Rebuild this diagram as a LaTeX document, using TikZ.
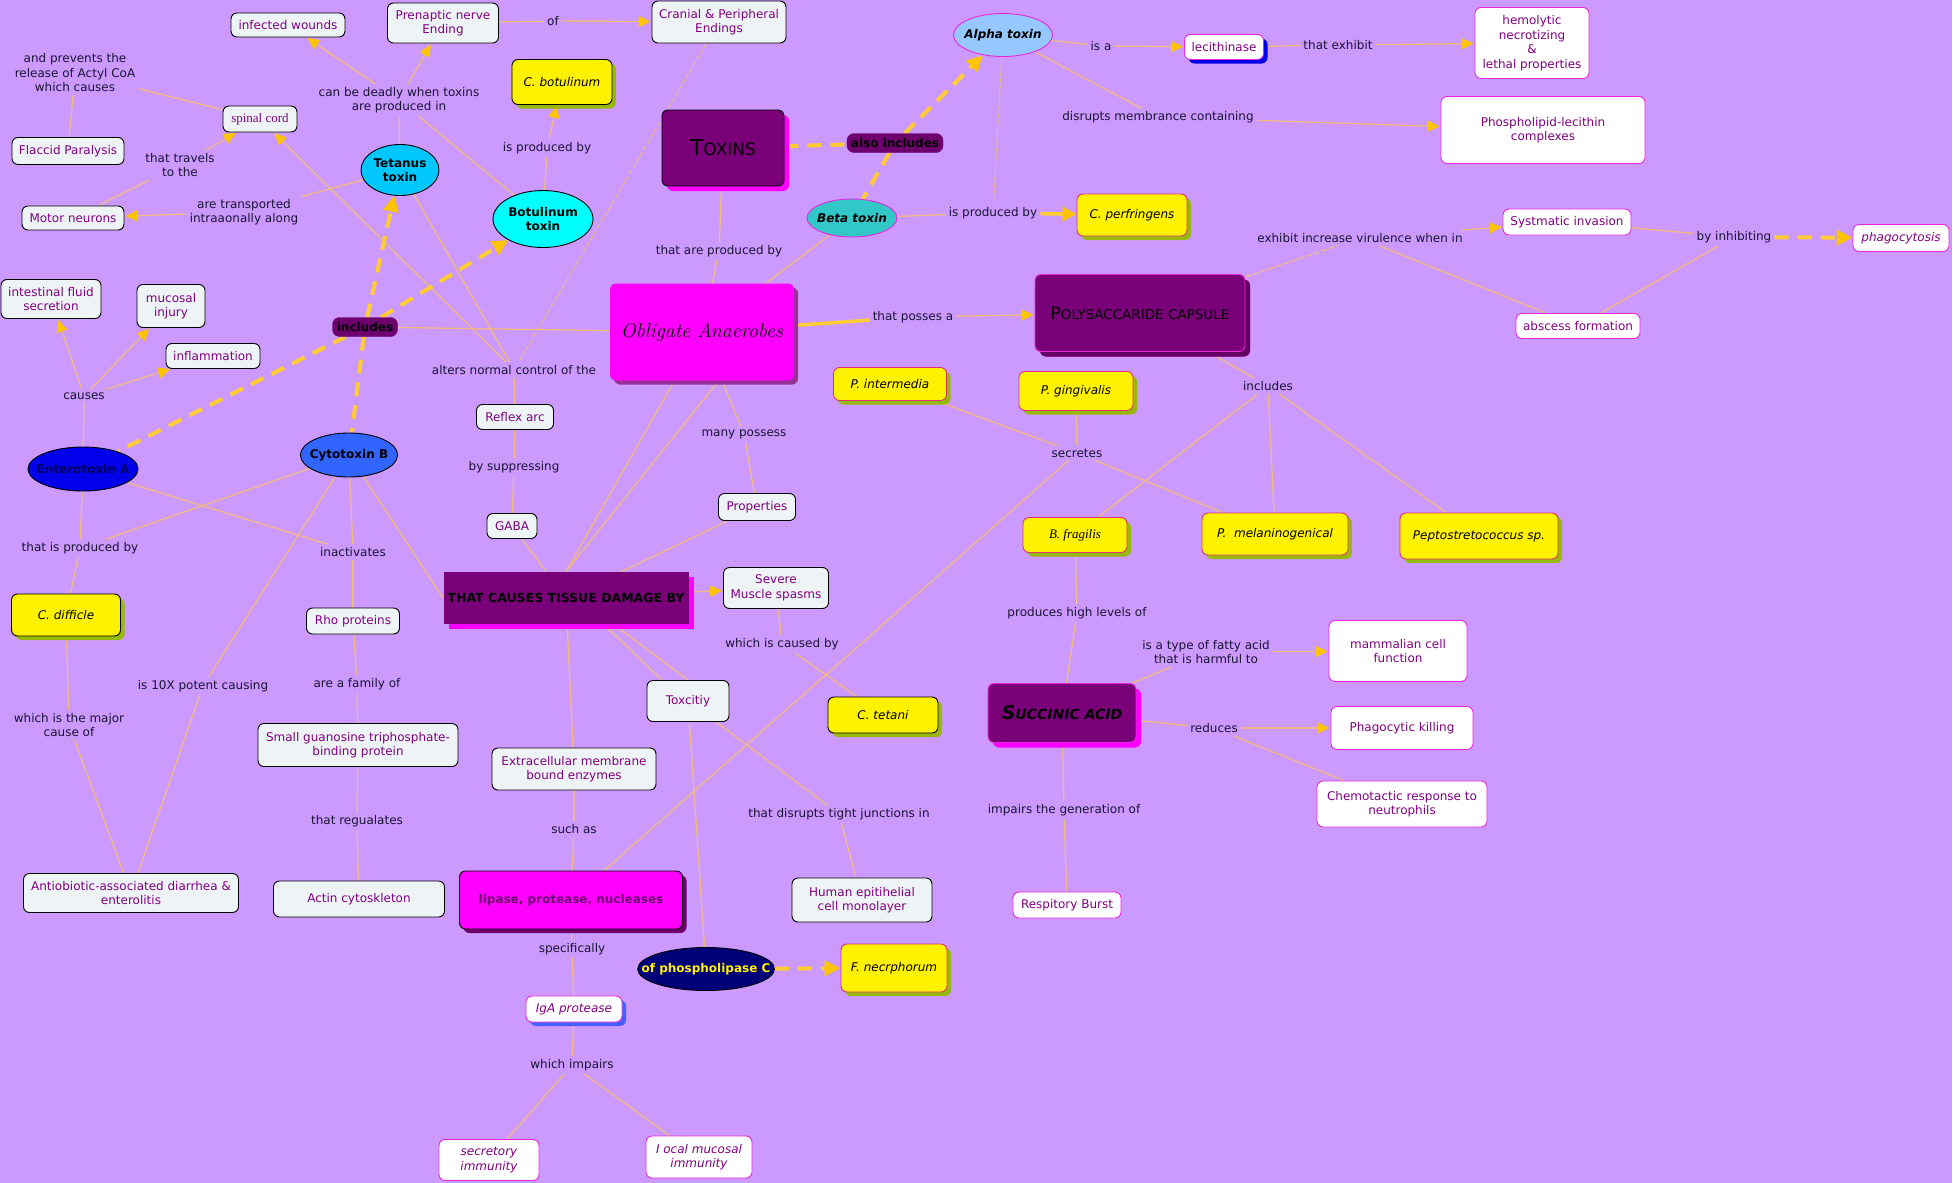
\documentclass[tikz,border=0pt]{standalone}
\usepackage{fontspec}
\setsansfont{DejaVu Sans}
\renewcommand{\familydefault}{\sfdefault}
\newfontfamily\tnr{Liberation Serif}
\usetikzlibrary{arrows.meta,shapes.geometric,shadows}
\pgfdeclarelayer{background}
\pgfsetlayers{background,main}

\definecolor{bg}{RGB}{204,153,255}
\definecolor{conn}{RGB}{240,185,130}
\definecolor{arr}{RGB}{255,196,0}
\definecolor{dashc}{RGB}{255,204,51}
\definecolor{ctext}{RGB}{128,0,128}
\definecolor{ltext}{RGB}{25,20,50}
\definecolor{cfill}{RGB}{238,244,246}
\definecolor{mag}{RGB}{230,40,220}
\definecolor{ymag}{RGB}{220,50,120}
\definecolor{dpurp}{RGB}{122,0,122}
\definecolor{shgreen}{RGB}{150,185,10}
\definecolor{pillc}{RGB}{110,0,110}
\definecolor{fuch}{RGB}{255,0,255}
\definecolor{cyanc}{RGB}{0,255,255}

\tikzset{
  base/.style={align=center, inner sep=2pt, font=\fontsize{12}{14.5}\selectfont},
  sz/.style 2 args={minimum width=#1pt, minimum height=#2pt},
  cbox/.style={base, rectangle, rounded corners=6pt, draw=black, line width=0.9pt, fill=cfill, text=ctext},
  wbox/.style={base, rectangle, rounded corners=6pt, draw=mag, line width=0.9pt, fill=white, text=ctext},
  ybox/.style={base, rectangle, rounded corners=6pt, draw=ymag, line width=0.9pt, fill=yellow, text=black,
     font=\fontsize{12}{14.5}\selectfont\itshape,
     drop shadow={shadow xshift=4pt, shadow yshift=-4pt, fill=shgreen, opacity=1}},
  pbox/.style={base, rectangle, rounded corners=6pt, draw=black, line width=0.9pt, fill=dpurp, text=black,
     drop shadow={shadow xshift=5pt, shadow yshift=-5pt, fill=fuch, opacity=1}},
  ell/.style={base, ellipse, draw=black, line width=0.9pt, text=black, inner ysep=0pt,
     font=\fontsize{12}{14.5}\selectfont\bfseries},
  pill/.style={base, rectangle, rounded corners=7pt, fill=pillc, draw=pillc, text=black, inner sep=1pt,
     font=\fontsize{12}{14}\selectfont\bfseries},
  lbl/.style={base, text=ltext, inner sep=3pt},
  ln/.style={draw=conn, line width=1.3pt},
  ar/.style={ln, -{Triangle[length=12pt, width=11pt, color=arr]}, shorten >=1pt},
  dsh/.style={draw=dashc, line width=4pt, dash pattern=on 14pt off 9pt},
  dar/.style={dsh, -{Triangle[length=16pt, width=15pt, color=arr]}},
  tk/.style={draw=dashc, line width=3.5pt},
  tar/.style={tk, -{Triangle[length=14pt, width=14pt, color=arr]}}
}

\begin{document}
\begin{tikzpicture}[x=1pt,y=-1pt]
\useasboundingbox (0,0) rectangle (1952,1183);

% ---------- concept boxes (light) ----------
\node[cbox, sz={114}{24}] (infw) at (288,25) {infected wounds};
\node[cbox, sz={111}{40}] (pren) at (443,23) {Prenaptic nerve\\Ending};
\node[cbox, sz={134}{42}] (cran) at (719,22) {Cranial \& Peripheral\\Endings};
\node[cbox, sz={74}{26}, font=\tnr\fontsize{13}{15}\selectfont] (spin) at (260,119) {spinal cord};
\node[cbox, sz={112}{27}] (flac) at (68,151) {Flaccid Paralysis};
\node[cbox, sz={102}{24}] (motor) at (73,218) {Motor neurons};
\node[cbox, sz={100}{39}] (intf) at (51,299) {intestinal fluid\\secretion};
\node[cbox, sz={68}{43}] (muc) at (171,306) {mucosal\\injury};
\node[cbox, sz={94}{25}] (infl) at (213,356) {inflammation};
\node[cbox, sz={77}{25}] (reflex) at (515,417) {Reflex arc};
\node[cbox, sz={50}{25}] (gaba) at (512,526) {GABA};
\node[cbox, sz={77}{27}] (prop) at (757,507) {Properties};
\node[cbox, sz={105}{41}] (severe) at (776,588) {Severe\\Muscle spasms};
\node[cbox, sz={82}{41}] (toxc) at (688,701) {Toxcitiy};
\node[cbox, sz={164}{42}] (extra) at (574,769) {Extracellular membrane\\bound enzymes};
\node[cbox, sz={93}{26}] (rho) at (353,621) {Rho proteins};
\node[cbox, sz={200}{43}] (small) at (358,745) {Small guanosine triphosphate-\\binding protein};
\node[cbox, sz={171}{36}] (actin) at (359,899) {Actin cytoskleton};
\node[cbox, sz={215}{39}] (anti) at (131,893) {Antiobiotic-associated diarrhea \&\\enterolitis};
\node[cbox, sz={140}{44}] (human) at (862,900) {Human epitihelial\\cell monolayer};

% ---------- white boxes ----------
\node[wbox, sz={79}{25}, drop shadow={shadow xshift=4pt, shadow yshift=-4pt, fill=blue!90!black, opacity=1}] (lec) at (1224,47) {lecithinase};
\node[wbox, sz={114}{71}] (hemo) at (1532,43) {hemolytic\\necrotizing\\\&\\lethal properties};
\node[wbox, sz={204}{67}] (phos) at (1543,130) {Phospholipid-lecithin\\complexes};
\node[wbox, sz={128}{26}] (sysi) at (1567,222) {Systmatic invasion};
\node[wbox, sz={96}{27}, font=\fontsize{12}{14.5}\selectfont\itshape] (phago) at (1901,238) {phagocytosis};
\node[wbox, sz={124}{25}] (absc) at (1578,326) {abscess formation};
\node[wbox, sz={138}{61}] (mamm) at (1398,651) {mammalian cell\\function};
\node[wbox, sz={142}{43}] (phkill) at (1402,728) {Phagocytic killing};
\node[wbox, sz={170}{46}] (chemo) at (1402,804) {Chemotactic response to\\neutrophils};
\node[wbox, sz={108}{26}] (resp) at (1067,905) {Respitory Burst};
\node[wbox, sz={96}{26}, font=\fontsize{12}{14.5}\selectfont\itshape,
      drop shadow={shadow xshift=4pt, shadow yshift=-4pt, fill={rgb,255:red,70;green,95;blue,255}, opacity=1}] (iga) at (574,1009) {IgA protease};
\node[wbox, sz={100}{41}, font=\fontsize{12}{14.5}\selectfont\itshape] (secr) at (489,1160) {secretory\\immunity};
\node[wbox, sz={106}{42}, font=\fontsize{12}{14.5}\selectfont\itshape] (local) at (699,1157) {I ocal mucosal\\immunity};

% ---------- yellow organism boxes ----------
\node[ybox, sz={100}{45}, draw=black] (cbot) at (562,82) {C. botulinum};
\node[ybox, sz={110}{42}] (cperf) at (1132,215) {C. perfringens};
\node[ybox, sz={113}{33}] (pint) at (890,384) {P. intermedia};
\node[ybox, sz={114}{39}] (pging) at (1076,391) {P. gingivalis};
\node[ybox, sz={104}{35}, font=\tnr\fontsize{13}{15}\selectfont\itshape] (bfrag) at (1075,535) {B. fragilis};
\node[ybox, sz={146}{42}] (pmel) at (1275,534) {P. \ melaninogenical};
\node[ybox, sz={158}{46}] (pepto) at (1479,536) {Peptostretococcus sp.};
\node[ybox, sz={109}{42}, draw=black] (cdiff) at (66,615) {C. difficle};
\node[ybox, sz={110}{36}, draw=black] (ctet) at (883,715) {C. tetani};
\node[ybox, sz={106}{48}] (fnec) at (894,968) {F. necrphorum};

% ---------- big purple / magenta boxes ----------
\node[pbox, sz={122}{76}] (toxins) at (723,148)
  {{\fontsize{22}{24}\selectfont T}{\fontsize{17}{24}\selectfont OXINS}};
\node[pbox, sz={210}{77}, draw=mag, drop shadow={shadow xshift=5pt, shadow yshift=-5pt, fill={rgb,255:red,100;green,0;blue,100}, opacity=1}] (poly) at (1140,313)
  {{\fontsize{17}{19}\selectfont P}{\fontsize{13.5}{19}\selectfont OLYSACCARIDE CAPSULE}};
\node[pbox, sz={148}{59}, draw=mag] (succ) at (1062,713)
  {{\fontsize{19}{21}\selectfont\bfseries\itshape S}{\fontsize{14}{21}\selectfont\bfseries\itshape UCCINIC ACID}};
\node[pbox, sz={245}{52}, rounded corners=0pt, draw=none, font=\fontsize{12.5}{14}\selectfont\bfseries] (tcd) at (566,598)
  {THAT CAUSES TISSUE DAMAGE BY};
\node[base, rectangle, rounded corners=6pt, fill=fuch, draw=none, sz={184}{97}, text=black,
      font=\rmfamily\itshape\fontsize{20}{22}\selectfont,
      drop shadow={shadow xshift=4pt, shadow yshift=-4pt, fill={rgb,255:red,150;green,50;blue,150}, opacity=1}] (oblig) at (702,332) {Obligate Anaerobes};
\node[base, rectangle, rounded corners=6pt, fill=fuch, draw=black, line width=0.9pt, sz={223}{58}, text=pillc,
      font=\fontsize{12}{14}\selectfont\bfseries,
      drop shadow={shadow xshift=4pt, shadow yshift=-4pt, fill={rgb,255:red,110;green,0;blue,110}, opacity=1}] (lipase) at (571,900) {lipase, protease, nucleases};

% ---------- ellipses ----------
\node[ell, sz={78}{51}, inner xsep=0pt, fill={rgb,255:red,0;green,200;blue,255}] (tet) at (400,170) {Tetanus\\toxin};
\node[ell, sz={100}{57}, inner xsep=0pt, fill=cyanc] (botu) at (543,219) {Botulinum\\toxin};
\node[ell, sz={99}{43}, inner xsep=-3.7pt, draw=mag, fill={rgb,255:red,150;green,200;blue,255}, font=\fontsize{12}{14.5}\selectfont\bfseries\itshape] (alpha) at (1003,35) {Alpha toxin};
\node[ell, sz={90}{38}, inner xsep=-3.2pt, draw=mag, fill={rgb,255:red,50;green,200;blue,200}, font=\fontsize{12}{14.5}\selectfont\bfseries\itshape] (beta) at (852,218) {Beta toxin};
\node[ell, sz={110}{44}, inner xsep=-7.4pt, fill={rgb,255:red,0;green,0;blue,235}, text={rgb,255:red,0;green,0;blue,90}] (entA) at (83,469) {Enterotoxin A};
\node[ell, sz={97}{44}, inner xsep=-4.8pt, fill={rgb,255:red,50;green,100;blue,255}] (cytB) at (349,455) {Cytotoxin B};
\node[ell, sz={135}{43}, inner xsep=-16pt, fill={rgb,255:red,0;green,0;blue,120}, text=yellow] (phosC) at (706,969) {of phospholipase C};

% ---------- pills ----------
\node[pill, sz={65}{19}] (incl) at (365,327) {includes};
\node[pill, sz={96}{19}] (alsoinc) at (895,143) {also includes};

% ---------- linking labels ----------
\node[lbl] (lDeadly) at (399,100) {can be deadly when toxins\\are produced in};
\node[lbl] (lOf) at (553,21) {of};
\node[lbl] (lPrevents) at (75,73) {and prevents the\\release of Actyl CoA\\which causes};
\node[lbl] (lTravels) at (180,165) {that travels\\to the};
\node[lbl] (lTransp) at (244,212) {are transported\\intraaonally along};
\node[lbl] (lCauses) at (84,396) {causes};
\node[lbl] (lAlters) at (514,370) {alters normal control of the};
\node[lbl] (lIsProdBot) at (547,148) {is produced by};
\node[lbl] (lThatProd) at (719,251) {that are produced by};
\node[lbl] (lPosses) at (913,317) {that posses a};
\node[lbl] (lIsA) at (1101,46) {is a};
\node[lbl] (lExhibit) at (1338,45) {that exhibit};
\node[lbl] (lDisrupts) at (1158,117) {disrupts membrance containing};
\node[lbl] (lIsProdBeta) at (993,213) {is produced by};
\node[lbl] (lVirulence) at (1360,238) {exhibit increase virulence when in};
\node[lbl] (lInhibit) at (1734,237) {by inhibiting};
\node[lbl] (lIncl2) at (1268,386) {includes};
\node[lbl] (lSecretes) at (1077,453) {secretes};
\node[lbl] (lMany) at (744,434) {many possess};
\node[lbl] (lSuppress) at (514,467) {by suppressing};
\node[lbl] (lThatIsProd) at (80,548) {that is produced by};
\node[lbl] (lInact) at (353,552) {inactivates};
\node[lbl] (l10x) at (203,686) {is 10X potent causing};
\node[lbl] (lFamily) at (357,684) {are a family of};
\node[lbl] (lMajor) at (69,725) {which is the major\\cause of};
\node[lbl] (lCausedBy) at (782,644) {which is caused by};
\node[lbl] (lProduces) at (1077,613) {produces high levels of};
\node[lbl] (lFatty) at (1206,652) {is a type of fatty acid\\that is harmful to};
\node[lbl] (lReduces) at (1214,728) {reduces};
\node[lbl] (lImpairsGen) at (1064,810) {impairs the generation of};
\node[lbl] (lRegul) at (357,821) {that regualates};
\node[lbl] (lSuchAs) at (574,829) {such as};
\node[lbl] (lTight) at (839,814) {that disrupts tight junctions in};
\node[lbl] (lSpecif) at (572,949) {specifically};
\node[lbl] (lWhichImp) at (572,1065) {which impairs};

% ---------- connectors ----------
\begin{pgfonlayer}{background}
\fill[bg] (0,0) rectangle (1952,1183);
% tetanus / botulinum
\draw[ln] (tet) -- (lDeadly);
\draw[ln] (botu) -- (lDeadly);
\draw[ar] (lDeadly) -- (infw);
\draw[ar] (lDeadly) -- (pren);
\draw[ln] (pren) -- (lOf);
\draw[ar] (lOf) -- (cran);
\draw[ln, line width=1pt, dash pattern=on 5pt off 2pt] (cran) -- (lAlters);
\draw[ln] (tet) -- (lAlters);
\draw[ar] (lAlters) -- (spin);
\draw[ln] (lAlters) -- (reflex);
\draw[ln] (tet) -- (lTransp);
\draw[ar] (lTransp) -- (motor);
\draw[ln] (motor) -- (lTravels);
\draw[ar] (lTravels) -- (spin);
\draw[ln] (spin) -- (lPrevents);
\draw[ln] (lPrevents) -- (flac);
\draw[ln] (botu) -- (lIsProdBot);
\draw[ar] (lIsProdBot) -- (cbot);
% includes
\draw[ln] (incl) -- (oblig);
\draw[dar] (incl) -- (tet);
\draw[dar] (incl) -- (botu);
\draw[dsh] (incl) -- (entA);
\draw[dsh] (incl) -- (cytB);
% toxins
\draw[ln] (toxins) -- (lThatProd);
\draw[ln] (lThatProd) -- (oblig);
\draw[dsh] (toxins) -- (alsoinc);
\draw[dar] (alsoinc) -- (alpha);
\draw[dsh] (alsoinc) -- (beta);
% alpha / beta
\draw[ln] (alpha) -- (lIsA);
\draw[ar] (lIsA) -- (lec);
\draw[ln] (lec) -- (lExhibit);
\draw[ar] (lExhibit) -- (hemo);
\draw[ln] (alpha) -- (lDisrupts);
\draw[ar] (lDisrupts) -- (phos);
\draw[ln, line width=1pt, dash pattern=on 5pt off 2pt] (alpha) -- (lIsProdBeta);
\draw[ln] (beta) -- (lIsProdBeta);
\draw[tar] (lIsProdBeta) -- (cperf);
\draw[ln] (beta) -- (oblig);
% capsule
\draw[tk] (oblig) -- (lPosses);
\draw[ar] (lPosses) -- (poly);
\draw[ln, dash pattern=on 6pt off 2pt] (poly) -- (lVirulence);
\draw[ar] (lVirulence) -- (sysi);
\draw[ln] (lVirulence) -- (absc);
\draw[ln] (sysi) -- (lInhibit);
\draw[ln] (absc) -- (lInhibit);
\draw[dar] (lInhibit) -- (phago);
\draw[ln] (poly) -- (lIncl2);
\draw[ln] (lIncl2) -- (bfrag);
\draw[ln] (lIncl2) -- (pmel);
\draw[ln] (lIncl2) -- (pepto);
% secretes
\draw[ln] (pint) -- (lSecretes);
\draw[ln] (pging) -- (lSecretes);
\draw[ln] (lSecretes) -- (pmel);
\draw[ln] (lSecretes) -- (lipase);
% succinic acid
\draw[ln] (bfrag) -- (lProduces);
\draw[ln] (lProduces) -- (succ);
\draw[ln] (succ) -- (lFatty);
\draw[ar] (lFatty) -- (mamm);
\draw[ln] (succ) -- (lReduces);
\draw[ar] (lReduces) -- (phkill);
\draw[ln] (lReduces) -- (chemo);
\draw[ln] (succ) -- (lImpairsGen);
\draw[ln] (lImpairsGen) -- (resp);
% tissue damage
\draw[ln] (oblig) -- (lMany);
\draw[ln] (lMany) -- (prop);
\draw[ln] (prop) -- (tcd);
\draw[ln] (oblig) -- (tcd.north);
\draw[ln] (oblig.289) -- (tcd.north);
\draw[ln] (reflex) -- (lSuppress);
\draw[ln] (lSuppress) -- (gaba);
\draw[ln] (gaba) -- (tcd);
\draw[ar] (tcd) -- (severe);
\draw[ln] (severe) -- (lCausedBy);
\draw[ln] (lCausedBy) -- (ctet);
\draw[ln] (tcd.-35.8) -- (toxc.141.7);
\draw[ln] (tcd.-29.5) -- (toxc.north);
\draw[ln] (tcd) -- (extra);
\draw[ln] (extra) -- (lSuchAs);
\draw[ln] (lSuchAs) -- (lipase);
\draw[ln] (toxc) -- (lTight);
\draw[ln] (lTight) -- (human);
\draw[ln] (toxc) -- (phosC);
\draw[dar] (phosC) -- (fnec);
\draw[ln] (lipase) -- (lSpecif);
\draw[ln] (lSpecif) -- (iga);
\draw[ln] (iga) -- (lWhichImp);
\draw[ln] (lWhichImp) -- (secr);
\draw[ln] (lWhichImp) -- (local);
% cytotoxin / enterotoxin
\draw[ln] (cytB) -- (tcd.west);
\draw[ln] (cytB) -- (lInact);
\draw[ln] (entA) -- (lInact);
\draw[ln] (lInact) -- (rho);
\draw[ln] (rho) -- (lFamily);
\draw[ln] (lFamily) -- (small);
\draw[ln] (small) -- (lRegul);
\draw[ln] (lRegul) -- (actin);
\draw[ln] (cytB) -- (l10x);
\draw[ln] (l10x) -- (anti);
\draw[ln] (entA) -- (lThatIsProd);
\draw[ln] (cytB) -- (lThatIsProd);
\draw[ln] (lThatIsProd) -- (cdiff);
\draw[ln] (cdiff) -- (lMajor);
\draw[ln] (lMajor) -- (anti);
\draw[ln] (entA) -- (lCauses);
\draw[ar] (lCauses) -- (intf);
\draw[ar] (lCauses) -- (muc);
\draw[ar] (lCauses) -- (infl);
\end{pgfonlayer}
\end{tikzpicture}
\end{document}
